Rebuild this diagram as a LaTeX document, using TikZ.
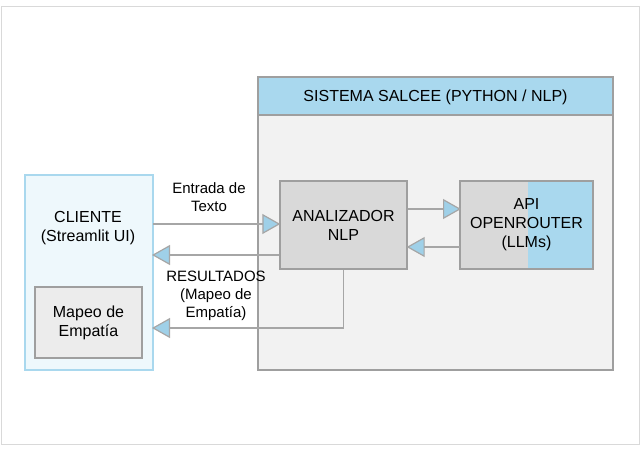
\documentclass[tikz,border=0pt]{standalone}
\usepackage{fontspec}
\setmainfont{Liberation Sans}
\usetikzlibrary{arrows.meta,positioning}
\definecolor{headblue}{HTML}{A9D8EE}
\definecolor{tipblue}{HTML}{9FD0E8}
\definecolor{clientbg}{HTML}{EEF8FC}
\tikzset{
  box/.style={draw=gray!75, line width=1.4pt, fill=gray!30, align=center, font=\fontsize{16}{19}\selectfont},
  flow/.style={draw=gray!70, line width=1.2pt, -{Triangle[length=18pt,width=20pt,fill=tipblue]}, shorten >=-1pt},
  lbl/.style={align=center, font=\fontsize{15}{18}\selectfont}
}
\begin{document}
\begin{tikzpicture}[x=1pt,y=-1pt]
        \useasboundingbox (0,0) rectangle (640,450);
        \draw[gray!30, line width=1pt] (1,6) rectangle (639,444);

        % Sistema
        \draw[gray!75, line width=1.4pt, fill=gray!10] (258,77) rectangle (613,370);
        \draw[gray!75, line width=1.4pt, fill=headblue] (258,77) rectangle (613,115);
        \node[lbl, font=\fontsize{16}{19}\selectfont] (sis) at (435.5,97) {SISTEMA SALCEE (PYTHON / NLP)};

        % Cliente
        \draw[headblue, line width=1.4pt, fill=clientbg] (25,175) rectangle (153,370);
        \node[lbl, font=\fontsize{16}{19}\selectfont] (cli) at (88,228) {CLIENTE\\(Streamlit UI)};
        \node[box, fill=gray!15, minimum width=107pt, minimum height=71pt] (mapeo) at (88.5,322.5) {Mapeo de\\Empatía};
        \coordinate (cliR) at (153,0);

        % Analizador y API
        \node[box, minimum width=127pt, minimum height=88pt] (nlp) at (343.5,225) {ANALIZADOR\\NLP};
        \fill[gray!30] (460,181) rectangle (528,269);
        \fill[headblue] (528,181) rectangle (593,269);
        \draw[gray!75, line width=1.4pt] (460,181) rectangle (593,269);
        \node[lbl, font=\fontsize{16}{19}\selectfont] (api) at (526.5,225) {API\\OPENROUTER\\(LLMs)};
        \coordinate (apiL) at (460,0);

        % Flujos
        \draw[flow] (cliR |- 0,224) -- (nlp.west |- 0,224);
        \node[lbl] (ent) at (209,197) {Entrada de\\Texto};
        \draw[flow] (nlp.west |- 0,255) -- (cliR |- 0,255);
        \draw[flow] (nlp.east |- 0,209) -- (apiL |- 0,209);
        \draw[flow] (apiL |- 0,247) -- (nlp.east |- 0,247);
        \draw[flow] (nlp.south) |- (cliR |- 0,328);
        \node[lbl] (res) at (216,296) {RESULTADOS\\(Mapeo de\\Empatía)};
    \end{tikzpicture}
\end{document}
